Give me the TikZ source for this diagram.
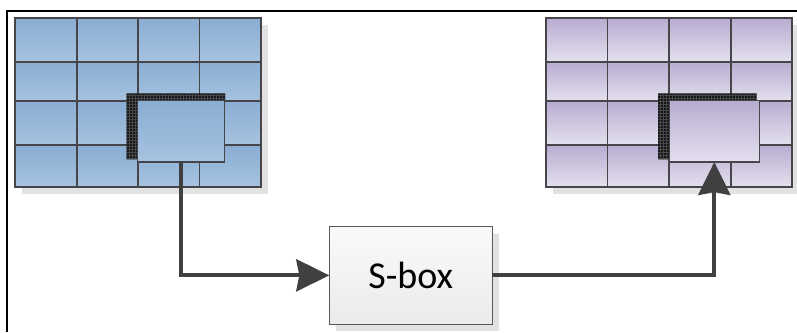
\documentclass[tikz,border=0pt]{standalone}
\usepackage{fontspec}
\setmainfont{Carlito}
\usetikzlibrary{arrows.meta,shadows,patterns}
\definecolor{blueTop}{RGB}{138,173,210}
\definecolor{blueBot}{RGB}{166,195,224}
\definecolor{purTop}{RGB}{184,172,208}
\definecolor{purBot}{RGB}{228,224,238}
\definecolor{cellLine}{RGB}{70,70,74}
\definecolor{connC}{RGB}{64,64,64}
\definecolor{shadowC}{RGB}{226,226,226}
\definecolor{Ldark}{RGB}{20,22,26}
\tikzset{
  bluecell/.style={top color=blueTop,bottom color=blueBot,draw=cellLine,line width=1.3pt},
  purcell/.style={top color=purTop,bottom color=purBot,draw=cellLine,line width=1.3pt},
  gridshadow/.style={fill=shadowC},
  lshape/.style={fill=Ldark,draw=none},
  lpat/.style={pattern=grid,pattern color=black!72},
  inbox/.style={rectangle,inner sep=0pt,outer sep=0pt,draw=cellLine,line width=1.3pt},
  sboxst/.style={rectangle,inner sep=0pt,outer sep=0pt,draw=black!65,line width=1pt,
    top color=white!98!black,bottom color=black!8,
    minimum width=163pt,minimum height=97.3pt,font=\fontsize{38}{40}\selectfont,
    general shadow={shadow xshift=7pt,shadow yshift=-7pt,fill=shadowC}},
  conn/.style={draw=connC,line width=4pt,
    -{Stealth[length=33pt,width=32pt,inset=3pt]}},
}
\begin{document}
\begin{tikzpicture}[x=1pt,y=-1pt]
\useasboundingbox (0,0) rectangle (797,332);
% frame
\draw[line width=2.2pt,black] (7,332) -- (7,11) -- (797,11);
% shadows of grids
\fill[gridshadow] (22,25) rectangle (268,194);
\fill[gridshadow] (553,25) rectangle (797,194);
% left grid
\foreach \xa/\xb in {15/77,77/138,138/199.5,199.5/261}{
  \foreach \ya/\yb in {18/62,62/101,101/145,145/187}{
    \path[bluecell] (\xa,\ya) rectangle (\xb,\yb);
  }
}
% right grid
\foreach \xa/\xb in {546/607.7,607.7/669,669/731,731/792}{
  \foreach \ya/\yb in {18/62,62/101,101/145,145/187}{
    \path[purcell] (\xa,\ya) rectangle (\xb,\yb);
  }
}
% L shapes
\path[lshape] (126.7,93.3) -- (225,93.3) -- (225,100.7) -- (137.7,100.7) -- (137.7,159.3) -- (126.7,159.3) -- cycle;
\path[lshape] (658,93.3) -- (756.7,93.3) -- (756.7,100.7) -- (669.3,100.7) -- (669.3,159.3) -- (658,159.3) -- cycle;
\path[lpat] (126.7,93.3) -- (225,93.3) -- (225,100.7) -- (137.7,100.7) -- (137.7,159.3) -- (126.7,159.3) -- cycle;
\path[lpat] (658,93.3) -- (756.7,93.3) -- (756.7,100.7) -- (669.3,100.7) -- (669.3,159.3) -- (658,159.3) -- cycle;
% inner boxes
\node[inbox,top color=blueTop,bottom color=blueBot,minimum width=87pt,minimum height=61.3pt] (lin) at (181.2,131.35) {};
\node[inbox,top color=purTop,bottom color=purBot,minimum width=90pt,minimum height=61.3pt] (rin) at (714.3,131.35) {};
% S-box
\node[sboxst] (sbox) at (410.8,275.35) {S-box};
% connectors
\draw[conn] (lin.south) |- (sbox.west);
\draw[conn] (sbox.east) -| (rin.south);
\end{tikzpicture}
\end{document}
